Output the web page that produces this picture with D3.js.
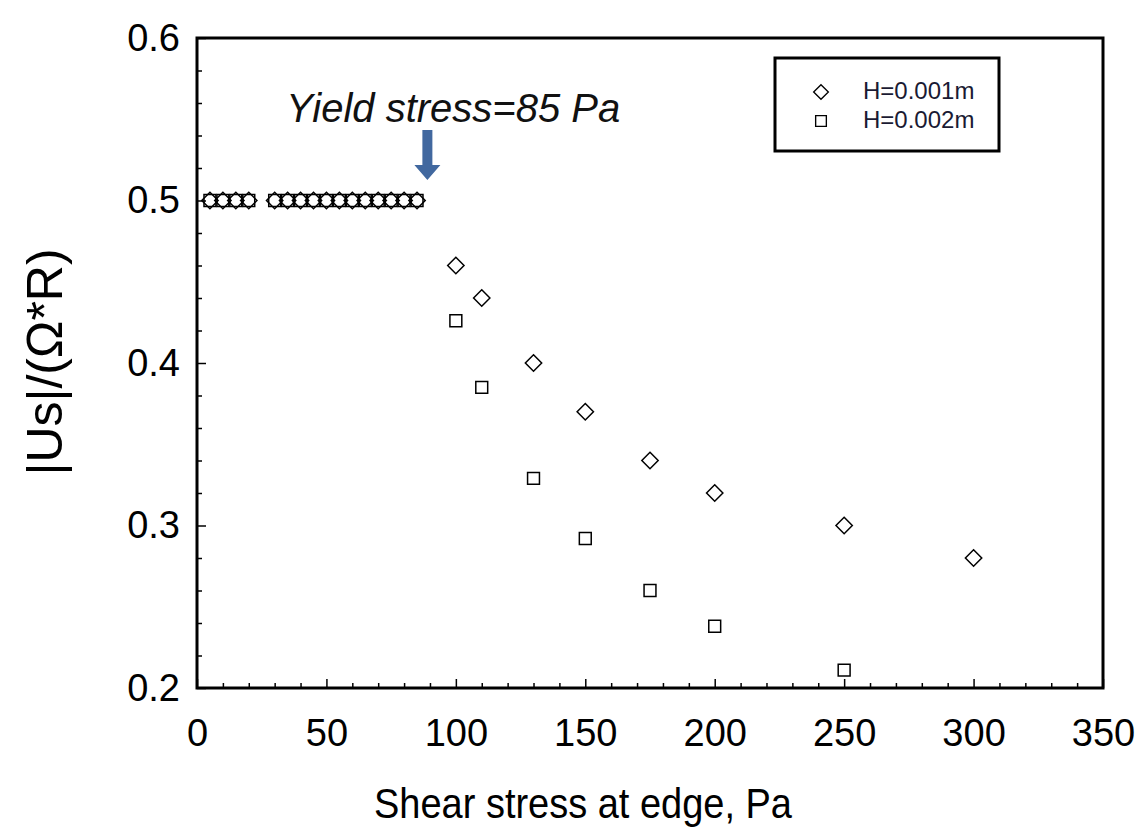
<!DOCTYPE html>
<html lang="en">
<head>
    <meta charset="UTF-8">
    <title>Shear stress vs |Us|/(Ω*R)</title>
    <script src="https://cdnjs.cloudflare.com/ajax/libs/d3/7.8.5/d3.min.js"></script>
    <style>
        body, html {
            margin: 0;
            padding: 0;
            background: #fff;
            font-family: "Liberation Sans", Arial, sans-serif;
        }
    </style>
</head>
<body>
    <div id="chart"></div>
    <script>
        // H=0.001m (diamonds)
        const h1X = [5, 10, 15, 20, 30, 35, 40, 45, 50, 55, 60, 65, 70, 75, 80, 85, 100, 110, 130, 150, 175, 200, 250, 300];
        const h1Y = [0.5, 0.5, 0.5, 0.5, 0.5, 0.5, 0.5, 0.5, 0.5, 0.5, 0.5, 0.5, 0.5, 0.5, 0.5, 0.5, 0.46, 0.44, 0.40, 0.37, 0.34, 0.32, 0.30, 0.28];
        // H=0.002m (squares)
        const h2X = [5, 10, 15, 20, 30, 35, 40, 45, 50, 55, 60, 65, 70, 75, 80, 85, 100, 110, 130, 150, 175, 200, 250];
        const h2Y = [0.5, 0.5, 0.5, 0.5, 0.5, 0.5, 0.5, 0.5, 0.5, 0.5, 0.5, 0.5, 0.5, 0.5, 0.5, 0.5, 0.426, 0.385, 0.329, 0.292, 0.26, 0.238, 0.211];

        const xTicks = [0, 50, 100, 150, 200, 250, 300, 350];
        const yTicks = [0.2, 0.3, 0.4, 0.5, 0.6];
        const seriesNames = ["H=0.001m", "H=0.002m"];

        const width = 1140, height = 832;
        const margin = {top: 38, right: 37, bottom: 144, left: 197};
        const iw = width - margin.left - margin.right;
        const ih = height - margin.top - margin.bottom;

        const svg = d3.select("#chart").append("svg")
            .attr("width", width)
            .attr("height", height);

        const g = svg.append("g")
            .attr("transform", `translate(${margin.left},${margin.top})`);

        const x = d3.scaleLinear().domain([0, 350]).range([0, iw]);
        const y = d3.scaleLinear().domain([0.2, 0.6]).range([ih, 0]);

        // minor ticks (inward)
        const xMinor = d3.range(0, 351, 10).filter(v => v % 50 !== 0);
        const yMinor = d3.range(0.2, 0.6001, 0.02).filter(v => Math.abs(v * 10 - Math.round(v * 10)) > 1e-6);

        g.append("g")
            .attr("transform", `translate(0,${ih})`)
            .call(d3.axisBottom(x).tickValues(xMinor).tickSize(-5).tickFormat(""))
            .call(a => a.select(".domain").remove())
            .selectAll("line").attr("stroke", "#000").attr("stroke-width", 1.5);

        g.append("g")
            .call(d3.axisLeft(y).tickValues(yMinor).tickSize(-5).tickFormat(""))
            .call(a => a.select(".domain").remove())
            .selectAll("line").attr("stroke", "#000").attr("stroke-width", 1.5);

        // major ticks + labels
        const xAxis = g.append("g")
            .attr("transform", `translate(0,${ih})`)
            .call(d3.axisBottom(x).tickValues(xTicks).tickSize(-9).tickPadding(31).tickFormat(d3.format("d")));
        xAxis.select(".domain").remove();
        xAxis.selectAll("line").attr("stroke", "#000").attr("stroke-width", 1.5);
        xAxis.selectAll("text")
            .attr("fill", "#000")
            .style("font-size", "38px")
            .style("font-family", "'Liberation Sans', Arial, sans-serif");

        const yAxis = g.append("g")
            .call(d3.axisLeft(y).tickValues(yTicks).tickSize(-9).tickPadding(17).tickFormat(d3.format(".1f")));
        yAxis.select(".domain").remove();
        yAxis.selectAll("line").attr("stroke", "#000").attr("stroke-width", 1.5);
        yAxis.selectAll("text")
            .attr("fill", "#000")
            .style("font-size", "38px")
            .style("font-family", "'Liberation Sans', Arial, sans-serif");

        // frame
        g.append("rect")
            .attr("x", 0).attr("y", 0)
            .attr("width", iw).attr("height", ih)
            .attr("fill", "none")
            .attr("stroke", "#000")
            .attr("stroke-width", 3);

        const diamond = d3.symbol().type(d3.symbolDiamond2).size(170);
        const square = d3.symbol().type(d3.symbolSquare2).size(180);

        g.append("g").selectAll("path")
            .data(h2X.map((v, i) => [v, h2Y[i]]))
            .join("path")
            .attr("d", square())
            .attr("transform", d => `translate(${x(d[0])},${y(d[1])})`)
            .attr("fill", "none")
            .attr("stroke", "#000")
            .attr("stroke-width", 1.5);

        g.append("g").selectAll("path")
            .data(h1X.map((v, i) => [v, h1Y[i]]))
            .join("path")
            .attr("d", diamond())
            .attr("transform", d => `translate(${x(d[0])},${y(d[1])})`)
            .attr("fill", "none")
            .attr("stroke", "#000")
            .attr("stroke-width", 1.5);

        // yield stress annotation
        const arrowX = x(89);
        const arrowTop = 92, arrowTip = 142;
        g.append("path")
            .attr("d", `M${arrowX - 5},${arrowTop} L${arrowX + 5},${arrowTop} L${arrowX + 5},${arrowTip - 15}
                        L${arrowX + 13},${arrowTip - 15} L${arrowX},${arrowTip} L${arrowX - 13},${arrowTip - 15}
                        L${arrowX - 5},${arrowTip - 15} Z`)
            .attr("fill", "#41689f");

        g.append("text")
            .attr("x", x(99))
            .attr("y", 84)
            .attr("text-anchor", "middle")
            .style("font-size", "40px")
            .style("font-style", "italic")
            .attr("fill", "#111")
            .text("Yield stress=85 Pa");

        // legend
        const lg = g.append("g").attr("transform", `translate(${775 - margin.left},${58 - margin.top})`);
        lg.append("rect")
            .attr("width", 224).attr("height", 93)
            .attr("fill", "#fff")
            .attr("stroke", "#000")
            .attr("stroke-width", 3);
        const legendSymbols = [diamond, square];
        seriesNames.forEach((name, i) => {
            lg.append("path")
                .attr("d", legendSymbols[i]())
                .attr("transform", `translate(46,${34 + i * 29}) scale(0.9)`)
                .attr("fill", "none")
                .attr("stroke", "#000")
                .attr("stroke-width", 1.5);
            lg.append("text")
                .attr("x", 88)
                .attr("y", 41 + i * 29)
                .style("font-size", "24px")
                .attr("fill", "#1a1a33")
                .text(name);
        });

        // axis titles
        svg.append("text")
            .attr("x", 374)
            .attr("y", 818)
            .attr("textLength", 418)
            .attr("lengthAdjust", "spacingAndGlyphs")
            .style("font-size", "42px")
            .attr("fill", "#000")
            .text("Shear stress at edge, Pa");

        svg.append("text")
            .attr("transform", "translate(62,362) rotate(-90)")
            .attr("text-anchor", "middle")
            .style("font-size", "50px")
            .attr("fill", "#000")
            .text("|Us|/(Ω*R)");
    </script>
</body>
</html>
